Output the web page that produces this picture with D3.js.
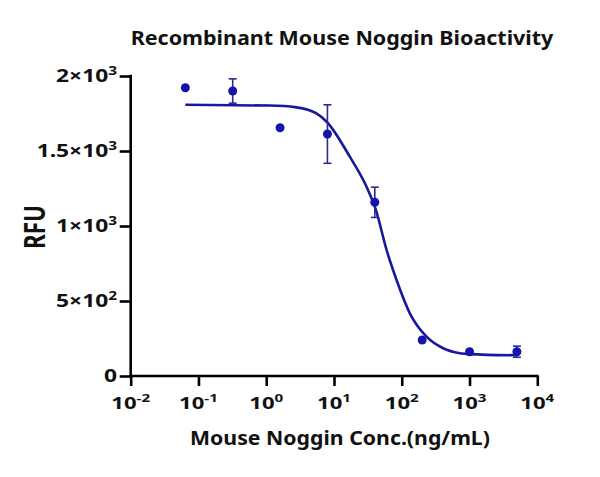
<!DOCTYPE html>
<html>
<head>
<meta charset="utf-8">
<script src="https://cdn.jsdelivr.net/npm/d3@7"></script>
<style>
  html, body { margin: 0; padding: 0; background: #fff; }
  svg { display: block; }
  text { font-family: "Noto Sans", "Open Sans", sans-serif; font-weight: bold; fill: #111; }
</style>
</head>
<body>
<svg id="chart" width="600" height="477"></svg>
<script>
// ---- data ----
const concentrations = [0.064, 0.32, 1.6, 8, 40, 200, 1000, 5000];   // ng/mL
const rfuMean        = [1922, 1900, 1655, 1613, 1158, 240, 162, 162];
const rfuError       = [0, 81, 0, 195, 101, 0, 0, 37];

// fitted curve
const curveConc = [0.064, 1.13, 2.8, 5.5, 7.8, 17.1, 30.2, 41.5, 59.7, 83.8, 131.6, 232, 408, 719, 1009, 5000];
const curveRfu  = [1808, 1803, 1791, 1751, 1695, 1462, 1262, 1107, 840, 640, 418, 262, 185, 152, 146, 138];

const xTickValues = [-2, -1, 0, 1, 2, 3, 4];          // exponents of 10
const yTickValues = [0, 500, 1000, 1500, 2000];
const yTickMant   = ["0", "5", "1", "1.5", "2"];
const yTickExp    = ["", "2", "3", "3", "3"];

const titleText = "Recombinant Mouse Noggin Bioactivity";
const xLabel = "Mouse Noggin Conc.(ng/mL)";
const yLabel = "RFU";

// ---- layout ----
const svg = d3.select("#chart");
const x = d3.scaleLog().domain([1e-2, 1e4]).range([130.7, 537.3]);
const y = d3.scaleLinear().domain([0, 2000]).range([376, 76]);

const dotColor = "#1414a8";
const lineColor = "#18189a";
const errColor = "#2a2a90";

function place(t, px, py, sx, extra) {
  t.attr("transform", `translate(${px},${py}) scale(${sx},1)` + (extra || ""));
}
function natWidth(t) { return t.node().getBBox().width; }

// title
const title = svg.append("text").attr("text-anchor", "middle").attr("font-size", 19).text(titleText);
place(title, 342, 45, 423 / natWidth(title));

// axes
const xAxis = d3.axisBottom(x).tickValues(xTickValues.map(e => Math.pow(10, e)))
  .tickSize(10).tickSizeOuter(0).tickFormat("");
const gx = svg.append("g").attr("transform", `translate(0,${y(0)})`).call(xAxis);
const yAxis = d3.axisLeft(y).tickValues(yTickValues).tickSize(11).tickSizeOuter(0).tickFormat("");
const gy = svg.append("g").attr("transform", `translate(${x(1e-2)},0)`).call(yAxis);
[gx, gy].forEach(g => {
  g.selectAll("path.domain").attr("stroke", "#000").attr("stroke-width", 2.6);
  g.selectAll(".tick line").attr("stroke", "#000").attr("stroke-width", 2.6);
});
gx.select("path.domain").attr("d", `M${x(1e-2) - 1.3},0H${x(1e4) + 1.3}`);
gy.select("path.domain").attr("d", `M0,${y(2000) - 1.3}V${y(0) + 1.3}`);

// x tick labels
xTickValues.forEach(e => {
  const t = svg.append("text").attr("text-anchor", "middle").attr("font-size", 16);
  t.append("tspan").text("10");
  t.append("tspan").attr("font-size", 11).attr("dy", -7).text(e < 0 ? "-" + (-e) : String(e));
  place(t, x(Math.pow(10, e)), 409, 1.38);
});

// y tick labels
yTickValues.forEach((v, i) => {
  const t = svg.append("text").attr("text-anchor", "end").attr("font-size", 17);
  if (yTickExp[i] === "") {
    t.text(yTickMant[i]);
  } else {
    t.append("tspan").text(yTickMant[i] + "\u00d710");
    t.append("tspan").attr("font-size", 11.5).attr("dy", -7.5).text(yTickExp[i]);
  }
  place(t, 117, y(v) + 6, 1.34);
});

// axis labels
const xl = svg.append("text").attr("text-anchor", "middle").attr("font-size", 19).text(xLabel);
place(xl, 340, 445, 300 / natWidth(xl));
const yl = svg.append("text").attr("text-anchor", "middle").attr("font-size", 22).text(yLabel);
const ylFont = 22 * 44 / natWidth(yl);
yl.attr("font-size", ylFont);
place(yl, 45, 227, 20 / (0.714 * ylFont), " rotate(-90)");

// curve
const curveData = curveConc.map((c, i) => [c, curveRfu[i]]);
svg.append("path").datum(curveData)
  .attr("fill", "none").attr("stroke", lineColor).attr("stroke-width", 2.6)
  .attr("d", d3.line().x(d => x(d[0])).y(d => y(d[1])).curve(d3.curveMonotoneX));

// error bars
const pts = concentrations.map((c, i) => ({ c, m: rfuMean[i], e: rfuError[i] }));
const eg = svg.append("g").attr("stroke", errColor).attr("stroke-width", 1.6);
pts.filter(d => d.e > 0).forEach(d => {
  const cx = x(d.c);
  eg.append("line").attr("x1", cx).attr("x2", cx).attr("y1", y(d.m - d.e)).attr("y2", y(d.m + d.e));
  eg.append("line").attr("x1", cx - 4).attr("x2", cx + 4).attr("y1", y(d.m + d.e)).attr("y2", y(d.m + d.e));
  eg.append("line").attr("x1", cx - 4).attr("x2", cx + 4).attr("y1", y(d.m - d.e)).attr("y2", y(d.m - d.e));
});

// points
svg.append("g").selectAll("circle").data(pts).join("circle")
  .attr("cx", d => x(d.c)).attr("cy", d => y(d.m)).attr("r", 4.5).attr("fill", dotColor);
</script>
</body>
</html>
